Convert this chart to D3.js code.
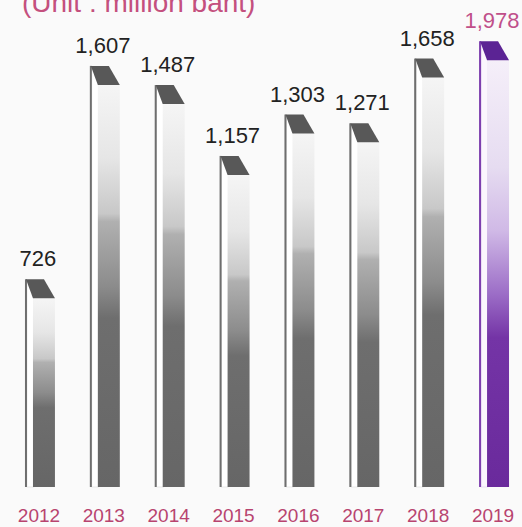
<!DOCTYPE html>
<html>
<head>
<meta charset="utf-8">
<script src="https://cdn.jsdelivr.net/npm/d3@7"></script>
<style>
  html, body { margin: 0; padding: 0; background: #fafafa; }
  svg { display: block; font-family: "Liberation Sans", Arial, sans-serif; }
</style>
</head>
<body>
<div id="chart"></div>
<script>
// data
const years = ["2012", "2013", "2014", "2015", "2016", "2017", "2018", "2019"];
const revenue = [726, 1607, 1487, 1157, 1303, 1271, 1658, 1978];
const unitTitle = "(Unit : million baht)";
const highlightYear = "2019";

const width = 522, height = 527;
const baseY = 487;

const svg = d3.select("#chart")
  .append("svg")
  .attr("width", width)
  .attr("height", height);

svg.append("rect").attr("width", width).attr("height", height).attr("fill", "#fafafa");

// gradients for bar faces
const defs = svg.append("defs");
const addGrad = (id, stops) => {
  const g = defs.append("linearGradient").attr("id", id)
    .attr("x1", 0).attr("y1", 0).attr("x2", 0).attr("y2", 1);
  stops.forEach(([o, c]) => g.append("stop").attr("offset", o).attr("stop-color", c));
};
addGrad("faceGray", [
  [0, "#f5f5f5"], [0.18, "#e6e6e6"], [0.32, "#c8c8c8"], [0.34, "#b0b0b0"],
  [0.5, "#8c8c8c"], [0.58, "#6e6e6e"], [1, "#666666"]
]);
addGrad("facePurple", [
  [0, "#f5eff9"], [0.25, "#e6dcf1"], [0.4, "#d0b9e6"], [0.55, "#9b6cc6"],
  [0.65, "#7434a6"], [1, "#6a2a9c"]
]);

// scales
const x = d3.scaleBand()
  .domain(years)
  .range([12, 522])
  .paddingInner(0.538)
  .paddingOuter(0.2);

// compressed value axis (designer squeezed the tallest bars)
const y = d3.scaleLinear()
  .domain([0, 1300, 1650, 2000])
  .range([baseY, 115, 59, 40]);

const data = years.map((yr, i) => ({ year: yr, value: revenue[i] }));
const bw = x.bandwidth();
const capH = 19;

const bars = svg.append("g").selectAll("g.bar")
  .data(data)
  .join("g")
  .attr("class", "bar")
  .attr("transform", (d) => `translate(${x(d.year)},0)`);

const isHi = (d) => d.year === highlightYear;

// white side strip
bars.append("rect")
  .attr("x", 2)
  .attr("y", (d) => y(d.value) + 2)
  .attr("width", 7)
  .attr("height", (d) => baseY - y(d.value) - 2)
  .attr("fill", (d) => (isHi(d) ? "#fbf6fd" : "#ffffff"))
  .attr("stroke", (d) => (isHi(d) ? "#e2d0ee" : "#dedede"))
  .attr("stroke-width", 0.6);

// front face
bars.append("rect")
  .attr("x", 8)
  .attr("y", (d) => y(d.value) + capH)
  .attr("width", bw - 8)
  .attr("height", (d) => baseY - y(d.value) - capH)
  .attr("fill", (d) => (isHi(d) ? "url(#facePurple)" : "url(#faceGray)"));

// left edge line
bars.append("rect")
  .attr("x", 0)
  .attr("y", (d) => y(d.value))
  .attr("width", 2)
  .attr("height", (d) => baseY - y(d.value))
  .attr("fill", (d) => (isHi(d) ? "#7d3fae" : "#6e6e6e"));

// top cap
bars.append("path")
  .attr("d", (d) => {
    const t = y(d.value);
    return `M1,${t} L19,${t} L${bw},${t + capH} L8,${t + capH} Z`;
  })
  .attr("fill", (d) => (isHi(d) ? "#5b2394" : "#585858"));

// value labels
bars.append("text")
  .attr("x", bw / 2 - 2)
  .attr("y", (d) => y(d.value) - 13)
  .attr("text-anchor", "middle")
  .attr("font-size", 22)
  .attr("fill", (d) => (isHi(d) ? "#c0508a" : "#222222"))
  .text((d) => d3.format(",")(d.value));

// year labels
svg.append("g").selectAll("text")
  .data(years)
  .join("text")
  .attr("x", (d) => x(d) + bw / 2 - 1)
  .attr("y", 522)
  .attr("text-anchor", "middle")
  .attr("font-size", 19)
  .attr("fill", "#b8446f")
  .text((d) => d);

// unit title (top is cut off in original)
svg.append("text")
  .attr("x", 22)
  .attr("y", 12)
  .attr("font-size", 28)
  .attr("fill", "#c4507e")
  .text(unitTitle);
</script>
</body>
</html>
